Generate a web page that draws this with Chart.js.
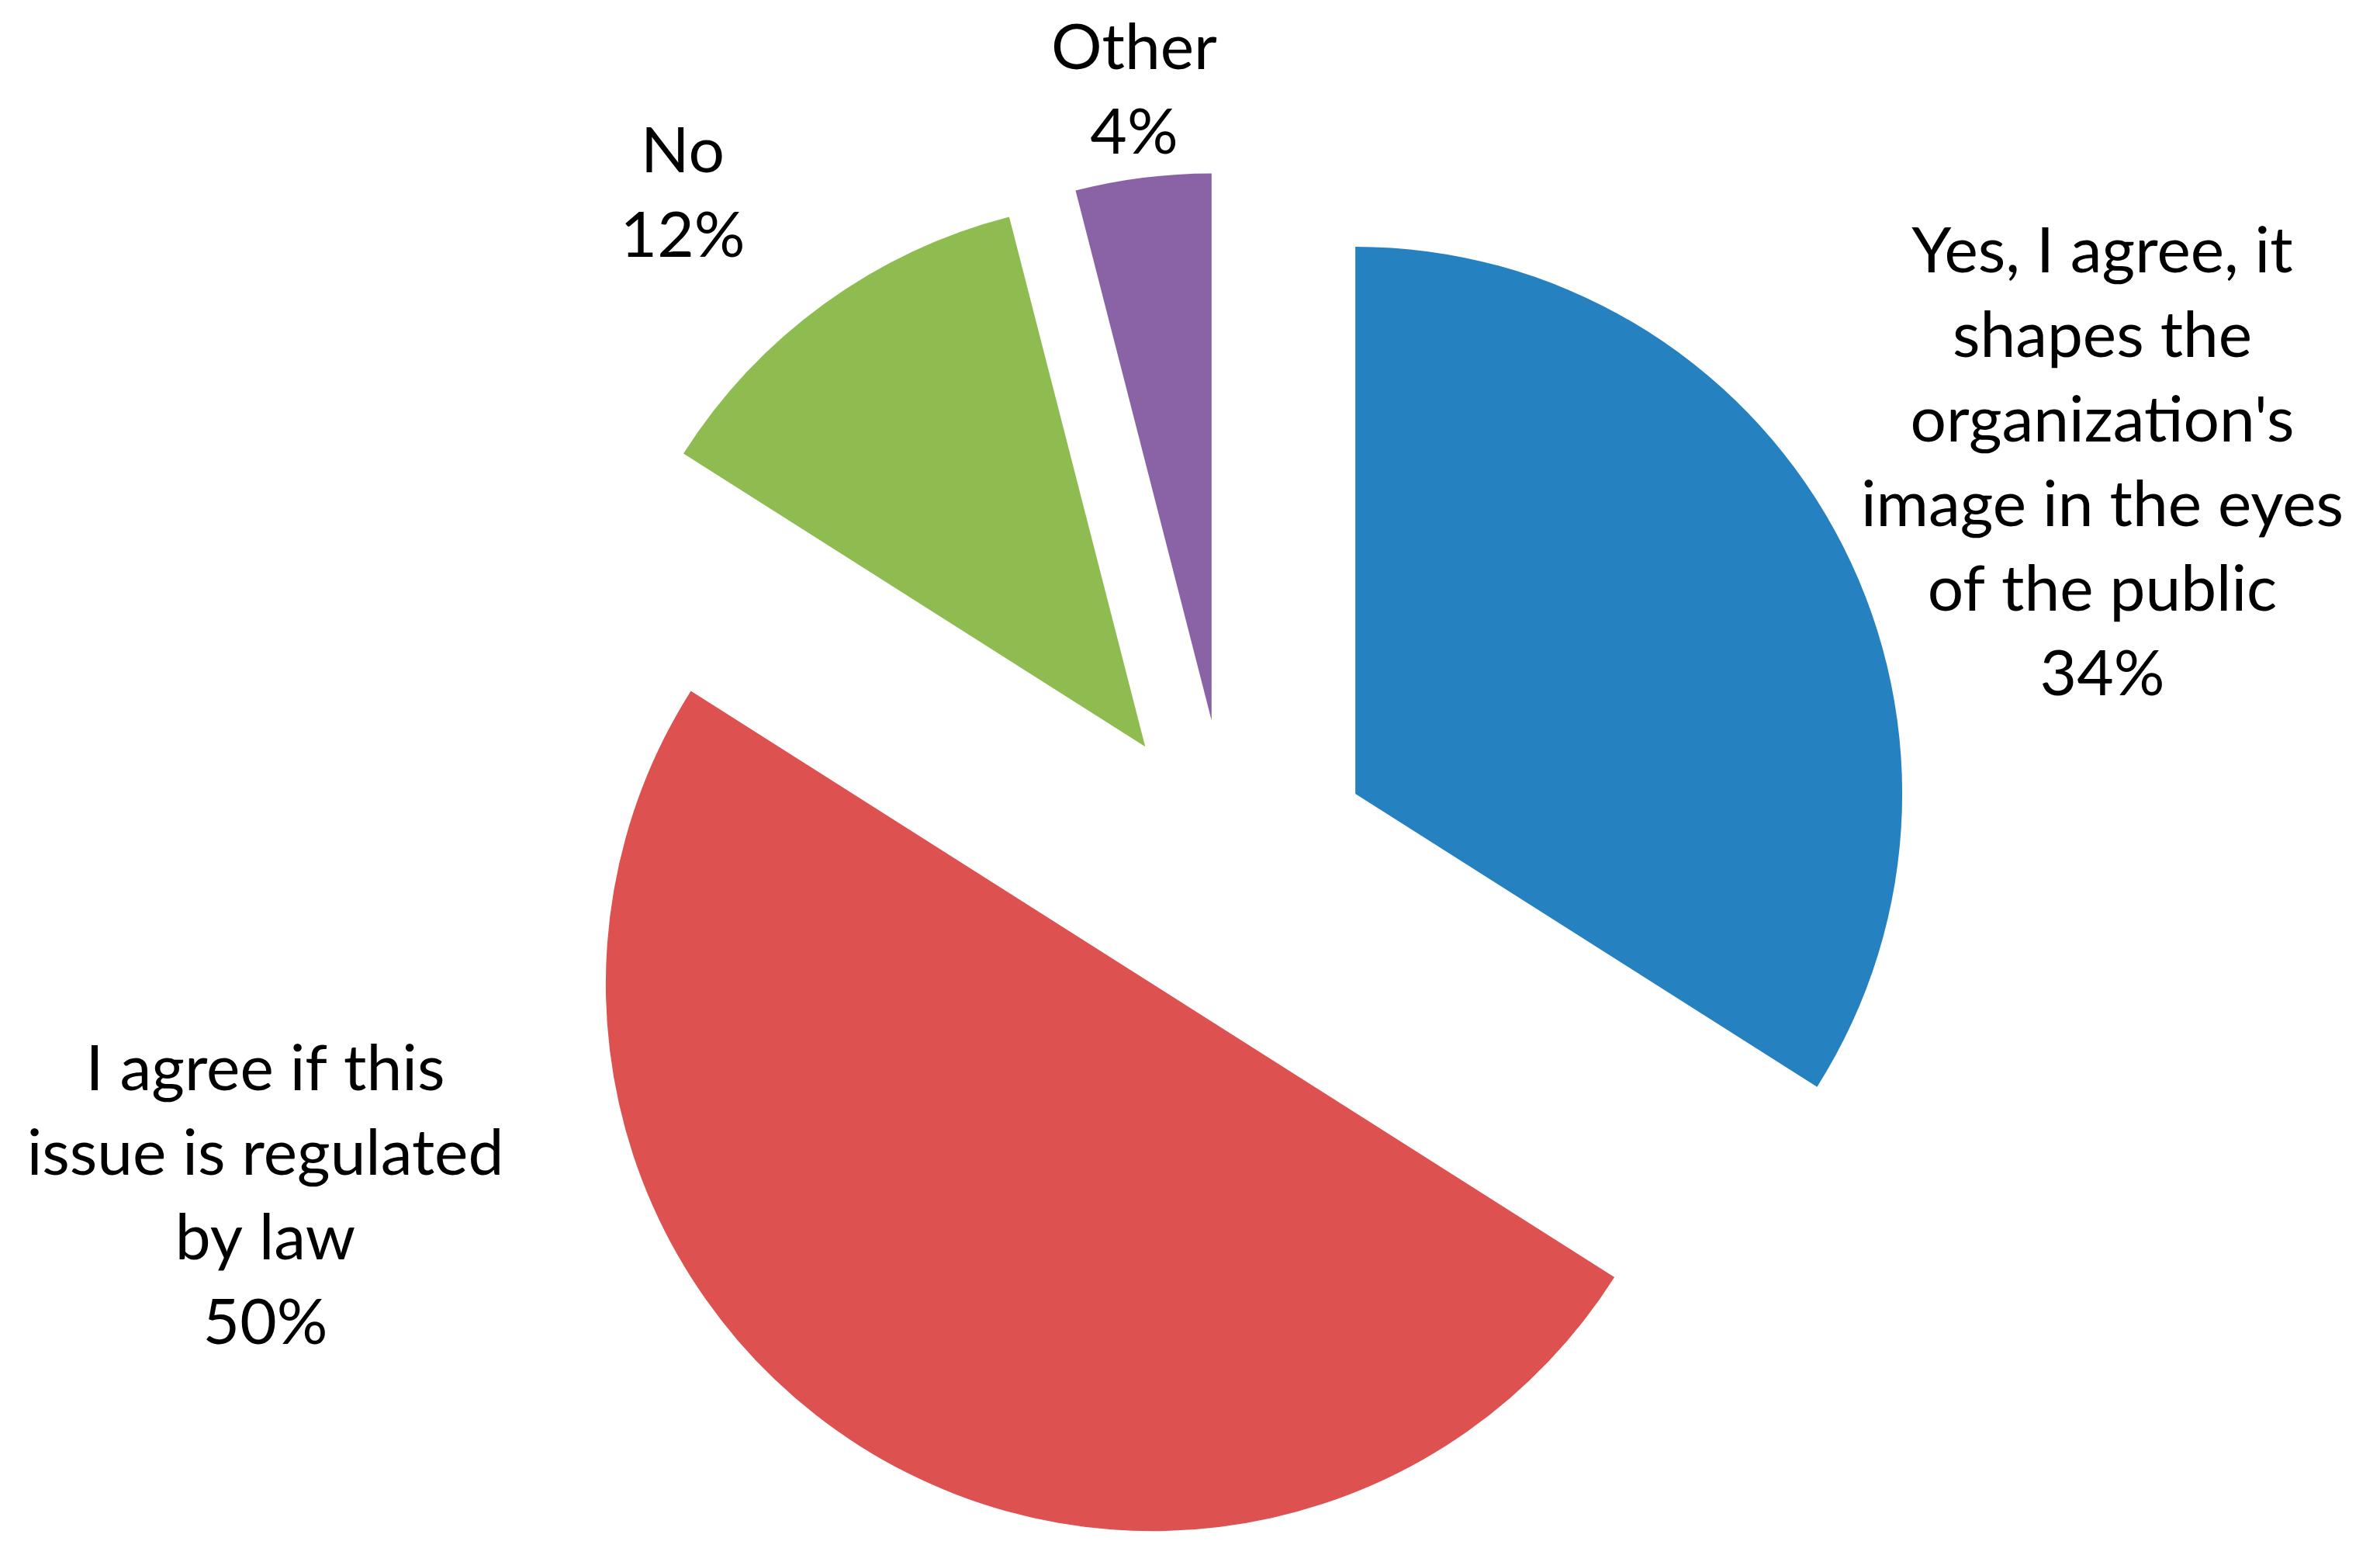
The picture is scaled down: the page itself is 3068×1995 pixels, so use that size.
<!DOCTYPE html>
<html>
<head>
<meta charset="utf-8">
<script src="https://cdn.jsdelivr.net/npm/chart.js@4.4.1/dist/chart.umd.min.js"></script>
<style>
  html, body { margin: 0; padding: 0; background: #fff; }
  #pie { display: block; }
</style>
</head>
<body>
<canvas id="pie" width="3068" height="1995"></canvas>
<script>
// answers, clockwise from 12 o'clock
const categories = [
  "Yes, I agree, it shapes the organization's image in the eyes of the public",
  'I agree if this issue is regulated by law',
  'No',
  'Other'
]
const percents = [34, 50, 12, 4]
const colors = ['#2581C0', '#DD5250', '#8FBC51', '#8963A5']

// how the data labels wrap, and where they sit
const labelLines = [
  ['Yes, I agree, it', 'shapes the', "organization's", 'image in the eyes', 'of the public'],
  ['I agree if this', 'issue is regulated', 'by law'],
  ['No'],
  ['Other']
]
const labelPos = [[2710, 325], [342, 1379], [880, 196], [1462, 63]]
const lineGap = 109
const explode = 185

// push every slice out from the centre by the same distance
const explodePlugin = {
  id: 'explode',
  afterDatasetUpdate(chart, args) {
    args.meta.data.forEach(arc => {
      const mid = (arc.startAngle + arc.endAngle) / 2
      arc.x += Math.cos(mid) * explode
      arc.y += Math.sin(mid) * explode
    })
  }
}

const labelPlugin = {
  id: 'sliceLabels',
  afterDraw(chart) {
    const ctx = chart.ctx
    ctx.save()
    ctx.font = '82px Lato, "Open Sans", sans-serif'
    ctx.fillStyle = '#000'
    ctx.textAlign = 'center'
    ctx.textBaseline = 'middle'
    labelLines.forEach((lines, i) => {
      const all = [...lines, percents[i] + '%']
      const [x, y] = labelPos[i]
      all.forEach((t, j) => ctx.fillText(t, x, y + j * lineGap))
    })
    ctx.restore()
  }
}

new Chart(document.getElementById('pie'), {
  type: 'pie',
  data: {
    labels: categories,
    datasets: [{
      data: percents,
      backgroundColor: colors,
      borderWidth: 0,
      radius: 705
    }]
  },
  options: {
    responsive: false,
    animation: false,
    layout: { padding: { left: 102, right: 0, top: 229, bottom: 0 } },
    plugins: {
      legend: { display: false },
      tooltip: { enabled: false }
    }
  },
  plugins: [explodePlugin, labelPlugin]
})
</script>
</body>
</html>
